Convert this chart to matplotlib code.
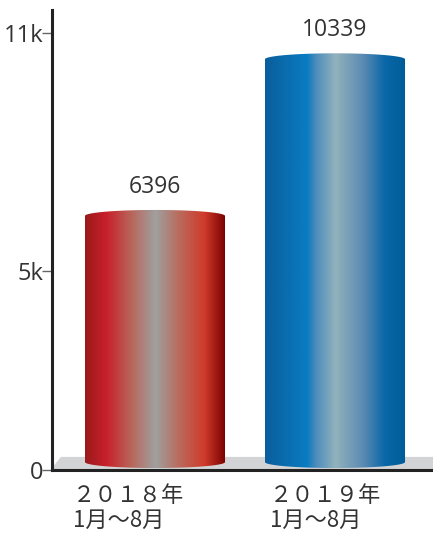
import numpy as np
import matplotlib.pyplot as plt
from matplotlib.path import Path
from matplotlib.patches import PathPatch, Polygon
from matplotlib.colors import to_rgb

categories = ["２０１８年\n1月～8月", "２０１９年\n1月～8月"]
values = [6396, 10339]
value_labels = ["6396", "10339"]
yticks = [0, 5000, 11000]
ytick_labels = ["0", "5k", "11k"]

# gradient stops (position across bar, colour)
red_stops = [(0.0, "#9a1a1c"), (0.15, "#c8202a"), (0.33, "#b8665a"), (0.5, "#a0a0a0"),
             (0.67, "#ba6a5c"), (0.85, "#cf3a2a"), (1.0, "#780000")]
blue_stops = [(0.0, "#0a5e9c"), (0.3, "#0a7cc2"), (0.36, "#4a8cbc"), (0.5, "#92b2bc"),
              (0.7, "#5a8ab2"), (0.85, "#0a68a8"), (1.0, "#005c98")]
bar_stops = [red_stops, blue_stops]

plt.rcParams["font.family"] = ["Open Sans", "DejaVu Sans"]

fig = plt.figure(figsize=(4.33, 5.33), dpi=100)
ax = fig.add_axes([52 / 433, 63 / 533, 381 / 433, 460 / 533])

ylim = (0, 11579)
xlim = (-0.5722, 1.5444)
width = 0.778
base = 200       # bars sit on the floor, a little above 0
cap = 150        # half-height of the elliptical ends
label_dx = [-0.456, -0.361]   # where each category label starts, relative to bar


def gradient(stops, n=300):
    pos = np.array([s[0] for s in stops])
    cols = np.array([to_rgb(s[1]) for s in stops])
    t = np.linspace(0, 1, n)
    img = np.stack([np.interp(t, pos, cols[:, k]) for k in range(3)], axis=-1)
    return img[np.newaxis, :, :]


def cylinder_path(xc, w, y0, y1, h):
    th = np.linspace(np.pi, 2 * np.pi, 60)
    bottom = np.column_stack([xc + w / 2 * np.cos(th), y0 + h * np.sin(th)])
    th2 = np.linspace(0, np.pi, 60)
    top = np.column_stack([xc + w / 2 * np.cos(th2), y1 + h * np.sin(th2)])
    verts = np.vstack([bottom, top, bottom[:1]])
    codes = [Path.MOVETO] + [Path.LINETO] * (len(verts) - 2) + [Path.CLOSEPOLY]
    return Path(verts, codes)


# grey floor
fl_top = 330
floor = Polygon([(xlim[0] - 0.01, 0), (xlim[0] + 0.05, fl_top), (xlim[1], fl_top), (xlim[1], 0)],
                closed=True, facecolor="#d2d3d5", edgecolor="none", zorder=1)
ax.add_patch(floor)

for i, v in enumerate(values):
    path = cylinder_path(i, width, base, v, cap)
    patch = PathPatch(path, facecolor="none", edgecolor="none")
    ax.add_patch(patch)
    im = ax.imshow(gradient(bar_stops[i]), extent=[i - width / 2, i + width / 2, base - cap, v + cap],
                   aspect="auto", zorder=2, interpolation="bilinear")
    im.set_clip_path(patch)
    ax.annotate(value_labels[i], (i, v + cap), xytext=(0, 8), textcoords="offset points",
                ha="center", va="bottom", fontsize=16.5, color="#333333")

for i, lab in enumerate(categories):
    ax.annotate(lab, (i + label_dx[i], 0), xytext=(0, -10), textcoords="offset points",
                ha="left", va="top", fontsize=16, color="#333333", linespacing=1.12,
                annotation_clip=False, family=["Noto Sans CJK JP", "DejaVu Sans"])

ax.set_xlim(xlim)
ax.set_ylim(ylim)
ax.set_xticks([])
ax.set_yticks(yticks)
ax.set_yticklabels(ytick_labels)
ax.tick_params(axis="y", direction="out", length=7, width=1, color="#666666",
               labelsize=17, labelcolor="#333333", pad=-1)
for s in ["top", "right"]:
    ax.spines[s].set_visible(False)
for s in ["left", "bottom"]:
    ax.spines[s].set_linewidth(2.2)
    ax.spines[s].set_color("#222222")
    ax.spines[s].set_zorder(5)

fig.savefig("out.png", dpi=100)
